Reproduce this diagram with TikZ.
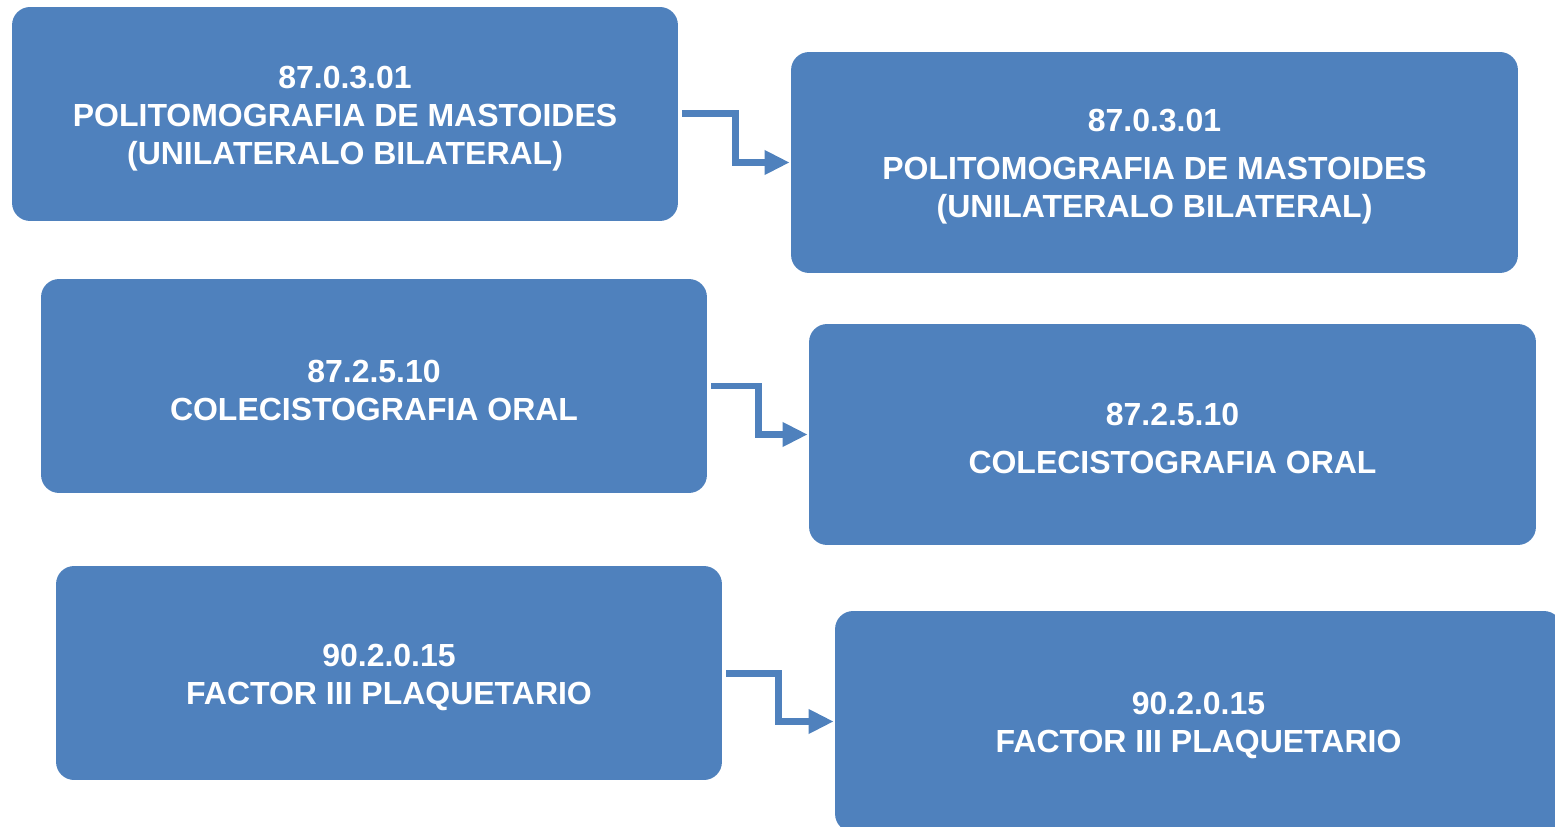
\documentclass[tikz,border=0pt]{standalone}
\usepackage{fontspec}
\setmainfont{Liberation Sans}
\usepackage{xcolor}
\usetikzlibrary{arrows.meta}
\definecolor{boxblue}{HTML}{4F81BD}
\def\lw{13.32cm}
\def\lh{4.28cm}
\def\rw{14.54cm}
\def\rh{4.42cm}
\newcommand{\topstrut}{\rule{0pt}{0.62cm}}

\begin{document}
\begin{tikzpicture}[
    x=0.02cm, y=-0.02cm,
    font=\fontsize{18.2}{21.6}\selectfont\bfseries,
    every node/.style={rectangle, rounded corners=0.36cm, fill=boxblue,
        text=white, align=center, inner sep=0pt},
    flow/.style={draw=boxblue, line width=0.14cm,
        -{Triangle[length=0.5cm,width=0.46cm]},
        shorten <=0.08cm, shorten >=0.02cm}
]
\clip (0,0) rectangle (1555,827);
% left column
\node[minimum width=\lw, minimum height=\lh] (l1) at (345,114)
    {\topstrut 87.0.3.01\\POLITOMOGRAFIA DE MASTOIDES\\(UNILATERALO BILATERAL)};
\node[minimum width=\lw, minimum height=\lh] (l2) at (374,386)
    {\topstrut 87.2.5.10\\COLECISTOGRAFIA ORAL};
\node[minimum width=\lw, minimum height=\lh] (l3) at (389,673)
    {\topstrut 90.2.0.15\\FACTOR III PLAQUETARIO};
% right column
\node[minimum width=\rw, minimum height=\rh] (r1) at (1154.5,162.5)
    {\topstrut 87.0.3.01\\[0.2cm]POLITOMOGRAFIA DE MASTOIDES\\(UNILATERALO BILATERAL)};
\node[minimum width=\rw, minimum height=\rh] (r2) at (1172.5,434.5)
    {\topstrut 87.2.5.10\\[0.2cm]COLECISTOGRAFIA ORAL};
\node[minimum width=\rw, minimum height=\rh] (r3) at (1198.5,721.5)
    {\topstrut 90.2.0.15\\FACTOR III PLAQUETARIO};
% elbow arrows
\draw[flow] (l1.east) -- ++(57,0) |- (r1.west);
\draw[flow] (l2.east) -- ++(51,0) |- (r2.west);
\draw[flow] (l3.east) -- ++(56,0) |- (r3.west);
\end{tikzpicture}
\end{document}
